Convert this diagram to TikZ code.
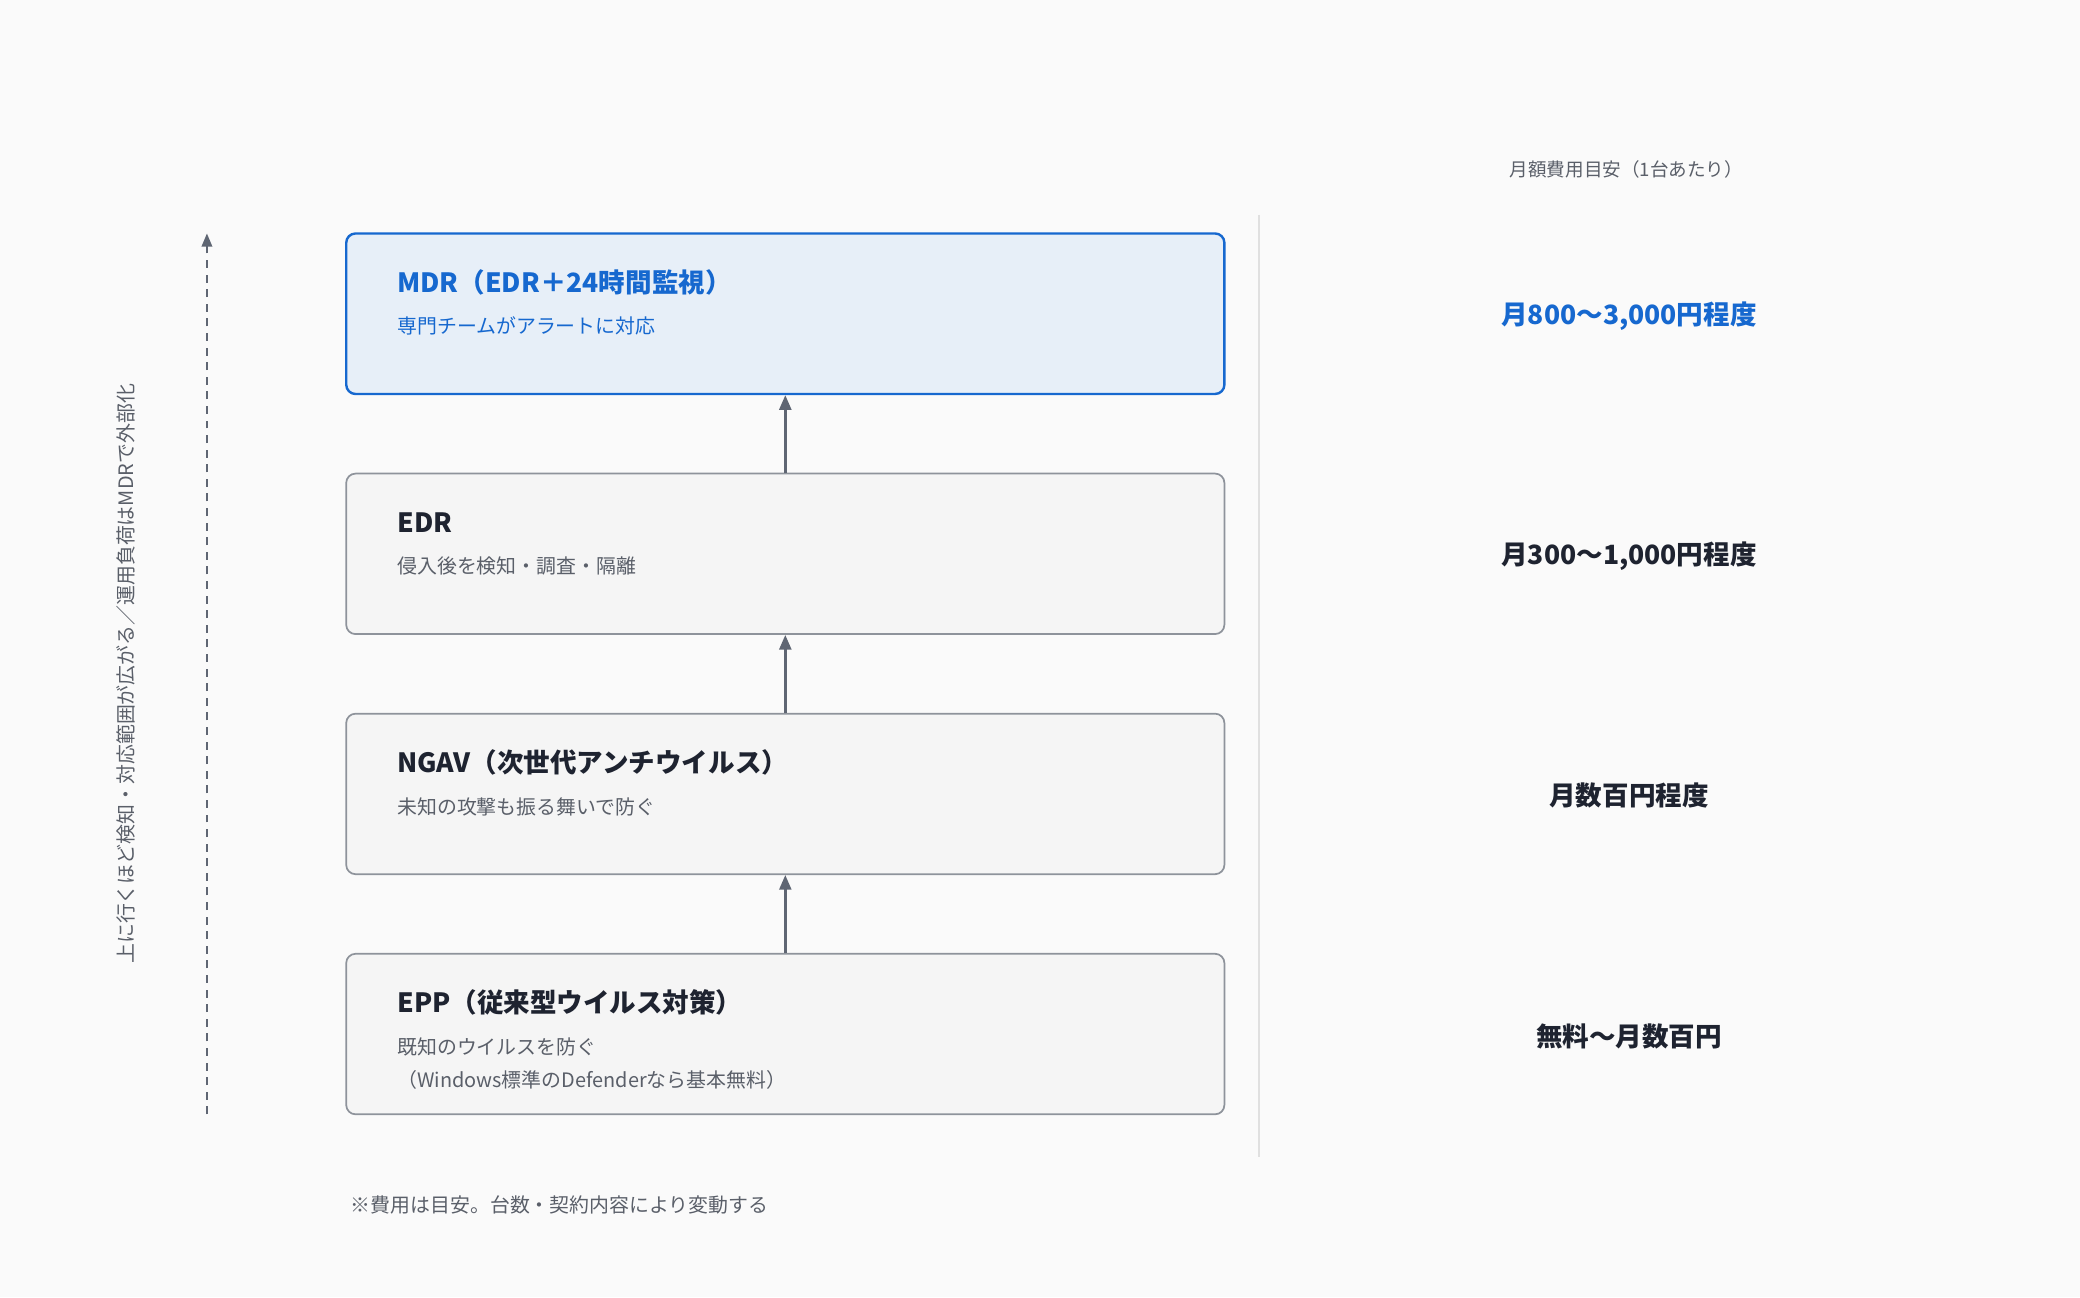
\documentclass[tikz,border=0pt]{standalone}
\usepackage{fontspec}
\setmainfont{Noto Sans CJK JP}
\usetikzlibrary{arrows.meta}
\definecolor{bg}{HTML}{FAFAFA}
\definecolor{boxf}{HTML}{F5F5F5}
\definecolor{boxd}{HTML}{8E939B}
\definecolor{bluef}{HTML}{E7EFF8}
\definecolor{blued}{HTML}{1668CF}
\definecolor{dark}{HTML}{1E2330}
\definecolor{sub}{HTML}{5A5F69}
\definecolor{arr}{HTML}{5F6673}
\begin{document}
\begin{tikzpicture}[x=1pt,y=-1pt,
  box/.style={draw=boxd,fill=boxf,line width=1.3pt,rounded corners=7pt,minimum width=662pt,minimum height=121pt,inner sep=0},
  bbox/.style={box,draw=blued,fill=bluef,line width=1.8pt},
  ttl/.style={anchor=west,font=\fontsize{20}{24}\selectfont\bfseries,text=dark},
  sb/.style={anchor=west,font=\fontsize{15}{18}\selectfont,text=sub},
  price/.style={font=\fontsize{20}{24}\selectfont\bfseries,text=dark},
  con/.style={draw=arr,line width=1.8pt,-{Triangle[length=11pt,width=9pt]}}]
\useasboundingbox[fill=bg] (0,0) rectangle (1568,978);
\node[bbox] (mdr) at (592,236.5) {};
\node[box] (edr) at (592,417.5) {};
\node[box] (ngav) at (592,598.5) {};
\node[box] (epp) at (592,779.5) {};
\node[ttl,text=blued] (t1) at (296,213) {MDR（EDR＋24時間監視）};
\node[sb,text=blued] (s1) at (296,246) {専門チームがアラートに対応};
\node[ttl] (t2) at (296,394) {EDR};
\node[sb] (s2) at (296,427) {侵入後を検知・調査・隔離};
\node[ttl] (t3) at (296,575) {NGAV（次世代アンチウイルス）};
\node[sb] (s3) at (296,608) {未知の攻撃も振る舞いで防ぐ};
\node[ttl] (t4) at (296,756) {EPP（従来型ウイルス対策）};
\node[sb] (s4) at (296,789) {既知のウイルスを防ぐ};
\node[sb] (s5) at (296,814) {（Windows標準のDefenderなら基本無料）};
\draw[con] (epp.north) -- (ngav.south);
\draw[con] (ngav.north) -- (edr.south);
\draw[con] (edr.north) -- (mdr.south);
\coordinate (db) at (156,840);
\coordinate (dt) at (156,176);
\draw[draw=arr,line width=1.4pt,dash pattern=on 6pt off 5pt,-{Triangle[length=10pt,width=8pt]}] (db) -- (dt);
\node[rotate=90,font=\fontsize{15}{18}\selectfont,text=sub] (vt) at (95,508) {上に行くほど検知・対応範囲が広がる／運用負荷はMDRで外部化};
\coordinate (la) at (949,162);
\coordinate (lb) at (949,872);
\draw[draw=black!12,line width=1pt] (la) -- (lb);
\node[font=\fontsize{14}{17}\selectfont,text=sub] (hd) at (1226,128) {月額費用目安（1台あたり）};
\node[price,text=blued] (p1) at (1228,238) {月800〜3,000円程度};
\node[price] (p2) at (1228,419) {月300〜1,000円程度};
\node[price] (p3) at (1228,600) {月数百円程度};
\node[price] (p4) at (1228,781) {無料〜月数百円};
\node[sb] (fn) at (261,908) {※費用は目安。台数・契約内容により変動する};
\end{tikzpicture}
\end{document}
